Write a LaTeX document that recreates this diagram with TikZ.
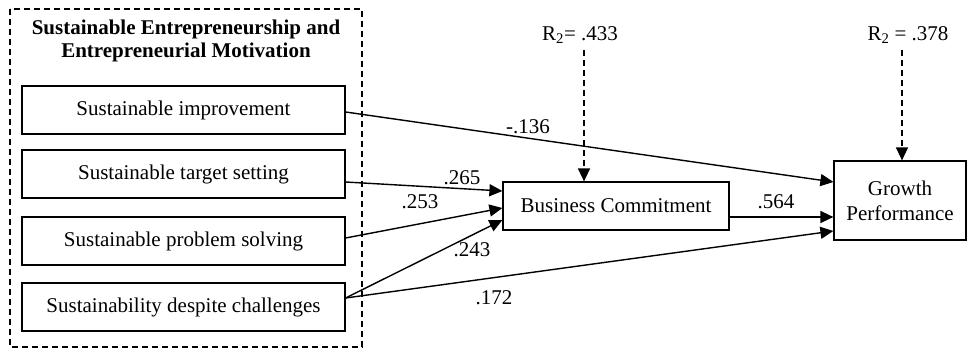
\documentclass[tikz,border=0pt]{standalone}
\usepackage{fontspec}
\setmainfont{Liberation Serif}
\usetikzlibrary{arrows.meta}

\begin{document}
\begin{tikzpicture}[x = 1pt, y = -1pt, font = \fontsize{21}{25}\selectfont]
	\tikzstyle{groupStyle} = [draw, dashed, line width = 1.2pt, dash pattern = on 6pt off 4pt]
	\tikzstyle{boxStyle} = [draw, line width = 1.2pt, inner sep = 0pt, align = center]
	\tikzstyle{pathStyle} = [line width = 1.4pt, -{Triangle[length = 13pt, width = 12pt]}]
	\tikzstyle{errStyle} = [pathStyle, dash pattern = on 6pt off 4pt]
	\tikzstyle{coefStyle} = [inner sep = 1pt]
	\useasboundingbox (0, 0) rectangle (968, 353);
	\draw[groupStyle] (10, 9) rectangle (362, 347);
	\node[font = \fontsize{21}{23}\selectfont\bfseries, align = center] (title) at (186, 41) {Sustainable Entrepreneurship and\\Entrepreneurial Motivation};
	\node[boxStyle, minimum width = 323pt, minimum height = 48pt] (si) at (183.5, 110) {Sustainable improvement};
	\node[boxStyle, minimum width = 323pt, minimum height = 48pt] (sts) at (183.5, 174) {Sustainable target setting};
	\node[boxStyle, minimum width = 323pt, minimum height = 48pt] (sps) at (183.5, 241) {Sustainable problem solving};
	\node[boxStyle, minimum width = 323pt, minimum height = 48pt] (sdc) at (183.5, 307) {Sustainability despite challenges};
	\node[boxStyle, minimum width = 226pt, minimum height = 48pt] (bc) at (616, 206) {Business Commitment};
	\node[boxStyle, minimum width = 132pt, minimum height = 79pt] (gp) at (900, 200.5) {Growth\\Performance};
	\node (rbc) at (580, 35) {R\textsubscript{2}= .433};
	\node (rgp) at (908, 35) {R\textsubscript{2} = .378};
	\coordinate (rbcEnd) at (584, 50);
	\coordinate (rgpEnd) at (902, 50);
	\draw[errStyle] (rbcEnd) -- (rbcEnd |- bc.north);
	\draw[errStyle] (rgpEnd) -- (rgpEnd |- gp.north);
	\draw[pathStyle] ([yshift = -2pt]si.east) -- ([yshift = 18.5pt]gp.west);
	\draw[pathStyle] ([yshift = -8pt]sts.east) -- ([yshift = 15pt]bc.west);
	\draw[pathStyle] ([yshift = 3pt]sps.east) -- ([yshift = -2pt]bc.west);
	\draw[pathStyle] ([yshift = 9pt]sdc.east) -- ([yshift = -14pt]bc.west);
	\draw[pathStyle] ([yshift = 9pt]sdc.east) -- ([yshift = -30.5pt]gp.west);
	\draw[pathStyle] ([yshift = -11pt]bc.east) -- ([yshift = -16.5pt]gp.west);
	\node[coefStyle] (c136) at (528, 127) {-.136};
	\node[coefStyle] (c265) at (462, 178) {.265};
	\node[coefStyle] (c253) at (420, 202) {.253};
	\node[coefStyle] (c243) at (472, 250) {.243};
	\node[coefStyle] (c172) at (494, 298) {.172};
	\node[coefStyle] (c564) at (776, 202) {.564};
\end{tikzpicture}
\end{document}
